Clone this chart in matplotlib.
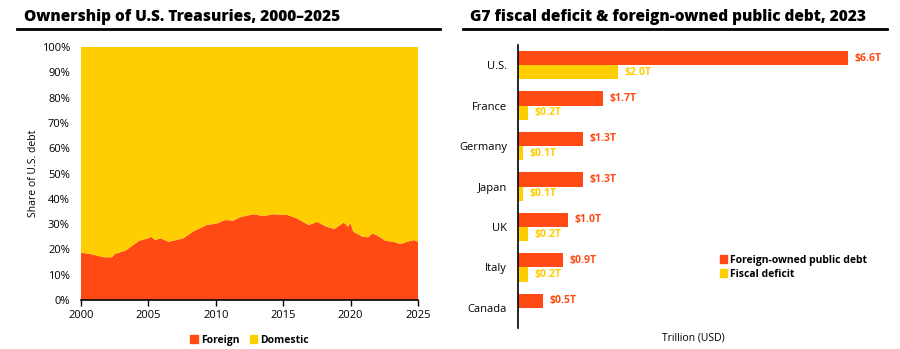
import matplotlib.pyplot as plt
from matplotlib.lines import Line2D
from matplotlib.patches import Patch
from matplotlib.ticker import PercentFormatter

plt.rcParams['font.family'] = ['Open Sans', 'DejaVu Sans']

ORANGE = '#FF4A14'
YELLOW = '#FFCE00'

####  Data  ####################################################################
# Foreign share of U.S. Treasuries (%)
years = [2000.0, 2000.7, 2001.7, 2002.3, 2002.5, 2003.3, 2004.3, 2005.0, 2005.2,
         2005.5, 2005.9, 2006.5, 2007.6, 2008.3, 2009.3, 2010.1, 2010.7, 2011.3,
         2011.8, 2012.8, 2013.5, 2014.3, 2015.3, 2016.0, 2016.9, 2017.5, 2018.2,
         2018.8, 2019.5, 2019.8, 2020.0, 2020.2, 2020.9, 2021.3, 2021.6, 2021.9,
         2022.6, 2023.2, 2023.7, 2024.2, 2024.7, 2025.0]
foreign = [18.7, 18.2, 16.9, 16.9, 18.2, 19.5, 23.4, 24.4, 25.0,
           23.7, 24.4, 23.0, 24.4, 27.0, 29.6, 30.3, 31.6, 31.4,
           32.7, 33.9, 33.2, 33.9, 33.6, 32.3, 29.6, 30.9, 29.0,
           28.1, 30.6, 29.0, 30.3, 27.0, 25.0, 24.8, 26.3, 25.7,
           23.4, 23.0, 22.1, 23.0, 23.7, 23.0]
domestic = [100 - f for f in foreign]

countries = ['U.S.', 'France', 'Germany', 'Japan', 'UK', 'Italy', 'Canada']
foreign_debt = [6.6, 1.7, 1.3, 1.3, 1.0, 0.9, 0.5]
fiscal_deficit = [2.0, 0.2, 0.1, 0.1, 0.2, 0.2, None]

####  Figure  ##################################################################
fig = plt.figure(figsize=(9, 3.49), dpi=100)

# Titles with rules underneath
fig.text(24 / 900, 1 - 17 / 349, 'Ownership of U.S. Treasuries, 2000–2025',
         fontsize=11.2, fontweight='heavy', va='center', ha='left')
fig.text(470 / 900, 1 - 17 / 349, 'G7 fiscal deficit & foreign-owned public debt, 2023',
         fontsize=11.2, fontweight='heavy', va='center', ha='left')
for x0, x1 in [(17, 440), (463, 887)]:
    fig.add_artist(Line2D([x0 / 900, x1 / 900], [1 - 29 / 349] * 2,
                          color='black', lw=2, transform=fig.transFigure))

####  Left: stacked area  ######################################################
ax1 = fig.add_axes([81 / 900, 1 - 300 / 349, 337 / 900, 253 / 349])
ax1.stackplot(years, foreign, domestic, colors=[ORANGE, YELLOW], lw=0)
ax1.set_xlim(2000, 2025)
ax1.set_ylim(0, 100)
ax1.set_yticks(range(0, 101, 10))
ax1.yaxis.set_major_formatter(PercentFormatter(decimals=0))
ax1.set_xticks(range(2000, 2026, 5))
for s in ['top', 'right', 'left']:
    ax1.spines[s].set_visible(False)
ax1.spines['bottom'].set_linewidth(1.2)
ax1.tick_params(axis='y', length=0, labelsize=8, pad=8)
ax1.tick_params(axis='x', length=4, width=1, labelsize=8, pad=3)
ax1.set_ylabel('Share of U.S. debt', fontsize=7.5, labelpad=2)
ax1.legend(handles=[Patch(color=ORANGE, label='Foreign'),
                    Patch(color=YELLOW, label='Domestic')],
           loc='upper center', bbox_to_anchor=(0.5, -0.1), ncol=2, frameon=False,
           prop={'weight': 'bold', 'size': 7.5}, handlelength=0.7, handleheight=0.7,
           handletextpad=0.3, columnspacing=1.0)

####  Right: horizontal bars  ##################################################
ax2 = fig.add_axes([518 / 900, 1 - 328 / 349, 350 / 900, 283 / 349])
pos = range(len(countries))
h = 0.35
for i, (c, f, d) in enumerate(zip(countries, foreign_debt, fiscal_deficit)):
    ax2.barh(i - h / 2, f, height=h, color=ORANGE)
    ax2.text(f + 0.13, i - h / 2, f'${f:.1f}T', color=ORANGE, fontsize=7.5,
             fontweight='bold', va='center')
    if d is not None:
        ax2.barh(i + h / 2, d, height=h, color=YELLOW)
        ax2.text(d + 0.13, i + h / 2, f'${d:.1f}T', color=YELLOW, fontsize=7.5,
                 fontweight='bold', va='center')
ax2.set_ylim(6.5, -0.5)
ax2.set_xlim(0, 7)
ax2.set_yticks(list(pos))
ax2.set_yticklabels(countries)
ax2.set_xticks([])
for s in ['top', 'right', 'bottom']:
    ax2.spines[s].set_visible(False)
ax2.spines['left'].set_linewidth(1.2)
ax2.tick_params(axis='y', length=0, labelsize=8, pad=8)
ax2.set_xlabel('Trillion (USD)', fontsize=7.5, labelpad=3)
ax2.legend(handles=[Patch(color=ORANGE, label='Foreign-owned public debt'),
                    Patch(color=YELLOW, label='Fiscal deficit')],
           loc='center left', bbox_to_anchor=(0.577, 0.215), frameon=False,
           prop={'weight': 'bold', 'size': 7.5}, handlelength=0.7, handleheight=0.7,
           handletextpad=0.3, labelspacing=0.3, borderaxespad=0, borderpad=0)

fig.savefig('out.png', dpi=100)
